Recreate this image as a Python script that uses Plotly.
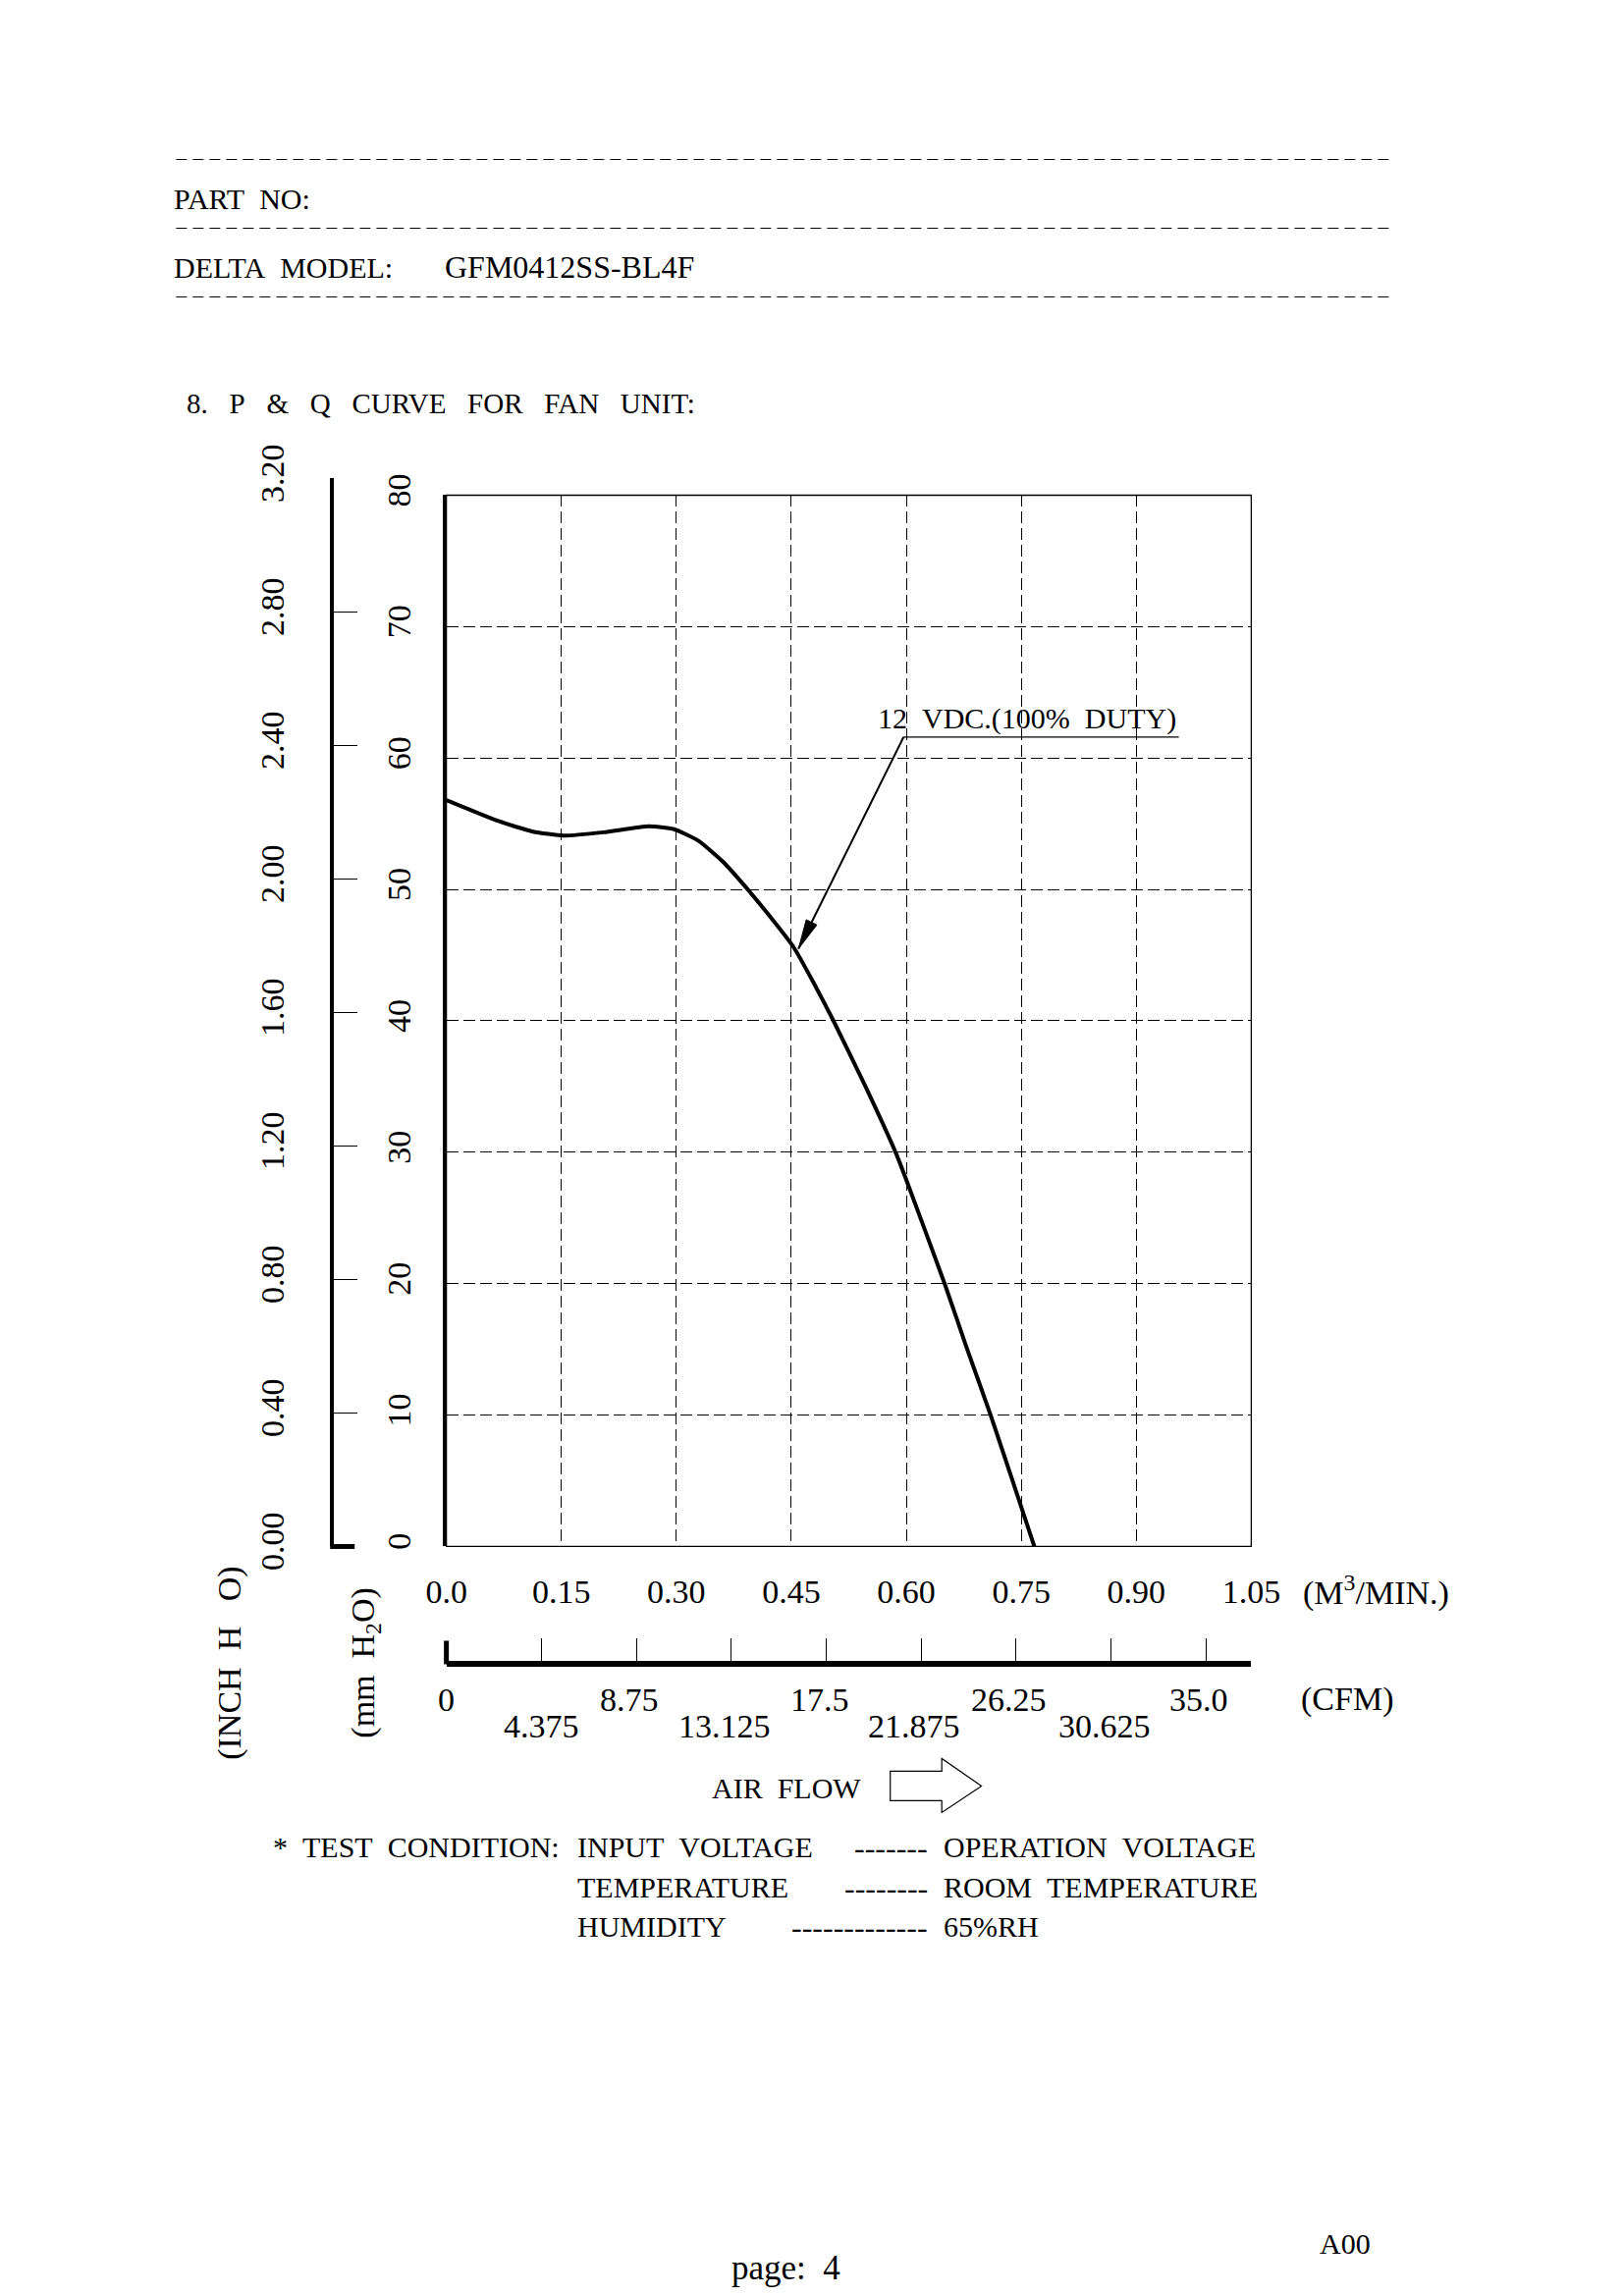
import math
import plotly.graph_objects as go

# P & Q curve, 12 VDC (100% duty)
flow_m3min = [0.0, 0.068, 0.113, 0.153, 0.205, 0.264, 0.296, 0.329, 0.361, 0.388, 0.420,
              0.453, 0.480, 0.505, 0.546, 0.586, 0.600, 0.650, 0.678, 0.710, 0.750, 0.767]
pressure_mm = [56.8, 55.2, 54.4, 54.1, 54.35, 54.8, 54.6, 53.7, 52.1, 50.35, 48.1,
               45.6, 42.8, 40.0, 35.1, 30.0, 27.9, 20.0, 15.25, 10.0, 3.0, 0.0]

m3_ticks = [0, 0.15, 0.30, 0.45, 0.60, 0.75, 0.90, 1.05]
m3_labels = ["0.0", "0.15", "0.30", "0.45", "0.60", "0.75", "0.90", "1.05"]
mm_ticks = [0, 10, 20, 30, 40, 50, 60, 70, 80]
mm_labels = ["0", "10", "20", "30", "40", "50", "60", "70", "80"]
inch_ticks = [0, 0.4, 0.8, 1.2, 1.6, 2.0, 2.4, 2.8, 3.2]
inch_labels = ["0.00", "0.40", "0.80", "1.20", "1.60", "2.00", "2.40", "2.80", "3.20"]
cfm_ticks = [0, 4.375, 8.75, 13.125, 17.5, 21.875, 26.25, 30.625, 35.0]
cfm_labels = ["0", "4.375", "8.75", "13.125", "17.5", "21.875", "26.25", "30.625", "35.0"]

curve_label = "12 VDC.(100% DUTY)"
model = "GFM0412SS-BL4F"
test_items = ["INPUT VOLTAGE", "TEMPERATURE", "HUMIDITY"]
test_dashes = ["-------", "--------", "-------------"]
test_values = ["OPERATION VOLTAGE", "ROOM TEMPERATURE", "65%RH"]

# page geometry; the photographed page comes out slightly shrunk and shifted,
# so positions below are given in picture pixels and mapped back here
W, H = 1653, 2360
SX, AX = 0.970, 27.5
SY, AY = 0.9746, 41.5
K = 1 / 0.972


def px(x):
    return (x - AX) / SX / W


def py(y):
    return 1 - (y - AY) / SY / H


def wide(s, n=2):
    return s.replace(" ", "\u00a0" * n)


X0, X1 = 453.5, 1274      # frame left / right
Y0, Y80 = 1574, 503       # 0 and 80 mmH2O
INCH_TOP = Y0 - (Y0 - Y80) * 3.2 * 25.4 / 80
CFM_MAX = 1.05 / 0.0283168
FONT = "Liberation Serif"
TXT = round(29 * K)
TICK = round(33 * K)
LEFT = -4    # annotation text sits a few px right of its anchor

fig = go.Figure()
fig.add_trace(go.Scatter(x=flow_m3min, y=pressure_mm, mode="lines",
                         line=dict(color="black", width=4, shape="spline", smoothing=0.5),
                         hoverinfo="skip", showlegend=False))
# invisible trace so the inch and CFM scales get drawn
fig.add_trace(go.Scatter(x=[0], y=[0], xaxis="x2", yaxis="y2", mode="markers",
                         marker=dict(opacity=0), hoverinfo="skip", showlegend=False))

grid = dict(showgrid=True, gridcolor="black", gridwidth=1, griddash="12px,5px", zeroline=False)

fig.update_layout(
    width=W, height=H, autosize=False,
    margin=dict(l=0, r=0, t=0, b=0),
    paper_bgcolor="white", plot_bgcolor="rgba(0,0,0,0)",
    font=dict(family=FONT, color="black", size=TXT),
    xaxis=dict(domain=[px(X0), px(X1)], range=[0, 1.05], tickvals=m3_ticks, ticktext=m3_labels,
               ticks="", tickfont=dict(size=TICK), ticklabelstandoff=23,
               showline=False, anchor="y", **grid),
    yaxis=dict(domain=[py(Y0), py(Y80)], range=[0, 80], tickvals=mm_ticks, ticktext=mm_labels,
               ticks="", tickfont=dict(size=TICK), tickangle=-90, ticklabelstandoff=19,
               showline=True, linewidth=4, linecolor="black", layer="above traces",
               anchor="x", **grid),
    xaxis2=dict(domain=[px(X0), px(X1)], range=[0, CFM_MAX], anchor="free", position=py(1694),
                tickvals=cfm_ticks, ticks="inside", ticklen=23, tickwidth=1.2, tickcolor="black",
                showticklabels=False, showline=True, linewidth=6, linecolor="black",
                showgrid=False, zeroline=False),
    yaxis2=dict(domain=[py(Y0), py(INCH_TOP)], range=[0, 3.2], anchor="free", position=px(337),
                side="left", tickvals=inch_ticks, ticktext=inch_labels, ticks="inside", ticklen=24,
                tickwidth=1.2, tickcolor="black", tickangle=-90, tickfont=dict(size=TICK),
                ticklabelstandoff=34, showline=True, linewidth=4, linecolor="black",
                showgrid=False, zeroline=False),
)

shapes = []
for yy in [161, 231, 301]:
    shapes.append(dict(type="line", xref="paper", yref="paper", x0=px(178), x1=px(1418),
                       y0=py(yy), y1=py(yy), line=dict(color="black", width=1, dash="11px,6px")))
shapes.append(dict(type="rect", xref="x domain", yref="y domain", x0=0, x1=1, y0=0, y1=1,
                   line=dict(color="black", width=1.3), layer="above"))

# curve label: underline, leader and arrowhead (label anchor and arrow tip in data units)
lead_x, lead_y = 0.5965, 61.6
tip_x, tip_y = 0.4593, 45.49
shapes.append(dict(type="line", xref="x", yref="y", x0=lead_x, x1=0.9555, y0=lead_y, y1=lead_y,
                   line=dict(color="black", width=1.3)))
shapes.append(dict(type="line", xref="x", yref="y", x0=lead_x, x1=tip_x, y0=lead_y, y1=tip_y,
                   line=dict(color="black", width=2)))
sx = (X1 - X0) / 1.05
sy = (Y0 - Y80) / 80
tx, ty = X0 + tip_x * sx, Y0 - tip_y * sy
lx, ly = X0 + lead_x * sx, Y0 - lead_y * sy
d = math.hypot(lx - tx, ly - ty)
ux, uy = (lx - tx) / d, (ly - ty) / d
L, Wh = 30, 6
bx, by = tx + ux * L, ty + uy * L
head = [(tx, ty), (bx - uy * Wh, by + ux * Wh), (bx + uy * Wh, by - ux * Wh)]
shapes.append(dict(type="path", xref="paper", yref="paper",
                   path="M " + " L ".join(f"{px(a):.5f},{py(b):.5f}" for a, b in head) + " Z",
                   fillcolor="black", line=dict(color="black", width=1)))

# heavy end ticks on the inch and CFM scales
shapes.append(dict(type="line", xref="paper", yref="paper", x0=px(335), x1=px(360),
                   y0=py(1574), y1=py(1574), line=dict(color="black", width=5)))
shapes.append(dict(type="line", xref="paper", yref="paper", x0=px(X0), x1=px(X0),
                   y0=py(1670), y1=py(1694), line=dict(color="black", width=5)))
# AIR FLOW arrow
pts = [(906, 1803), (958.5, 1803), (958.5, 1790), (999, 1818), (958.5, 1845), (958.5, 1833), (906, 1833)]
path = "M " + " L ".join(f"{px(a):.5f},{py(b):.5f}" for a, b in pts) + " Z"
shapes.append(dict(type="path", xref="paper", yref="paper", path=path,
                   line=dict(color="black", width=1.2), fillcolor="white"))
fig.update_layout(shapes=shapes)


def note(text, x, y, xanchor="left", size=TXT, **kw):
    if xanchor == "left":
        x += LEFT
    elif xanchor == "right":
        x -= LEFT
    fig.add_annotation(text=text, x=px(x), y=py(y), xref="paper", yref="paper", showarrow=False,
                       xanchor=xanchor, yanchor="middle", font=dict(size=size, family=FONT, color="black"),
                       **kw)


note(wide("PART NO:"), 178, 201)
note(wide("DELTA MODEL:"), 178, 271)
note(model, 454, 271, size=TXT + 2)
note(wide("8. P & Q CURVE FOR FAN UNIT:", 3), 191, 410, size=TXT - 1)

fig.add_annotation(text=wide(curve_label), x=0.565, y=63.0, xref="x", yref="y", showarrow=False,
                   xanchor="left", yanchor="middle", xshift=LEFT, font=dict(size=TXT))

note("(M<sup>3</sup>/MIN.)", 1329, 1619, size=TICK)

for i, (v, lab) in enumerate(zip(cfm_ticks, cfm_labels)):
    fig.add_annotation(text=lab, x=v, y=py(1730 if i % 2 == 0 else 1757), xref="x2", yref="paper",
                       showarrow=False, xanchor="center", yanchor="middle",
                       xshift=0 if i < 2 else -7, font=dict(size=TICK))
note("(CFM)", 1372, 1730, xanchor="center", size=TICK)

note("(INCH\u00a0\u00a0H\u00a0\u00a0\u00a0O)", 233, 1693, xanchor="center", size=TICK, textangle=-90)
note("(mm\u00a0\u00a0H<sub>2</sub>O)", 371, 1692, xanchor="center", size=TICK, textangle=-90)

note(wide("AIR FLOW"), 800, 1820, xanchor="center")

note(wide("* TEST CONDITION:"), 279, 1880)
for yy, item, dash, val in zip([1880, 1921, 1961], test_items, test_dashes, test_values):
    note(wide(item), 589, yy)
    note(dash, 942, yy + 1, xanchor="right", size=32)
    note(wide(val), 962, yy)

note("page:\u00a0\u00a04", 800, 2309, xanchor="center", size=35)
note("A00", 1370, 2284, xanchor="center")

fig.write_html("out.html")
